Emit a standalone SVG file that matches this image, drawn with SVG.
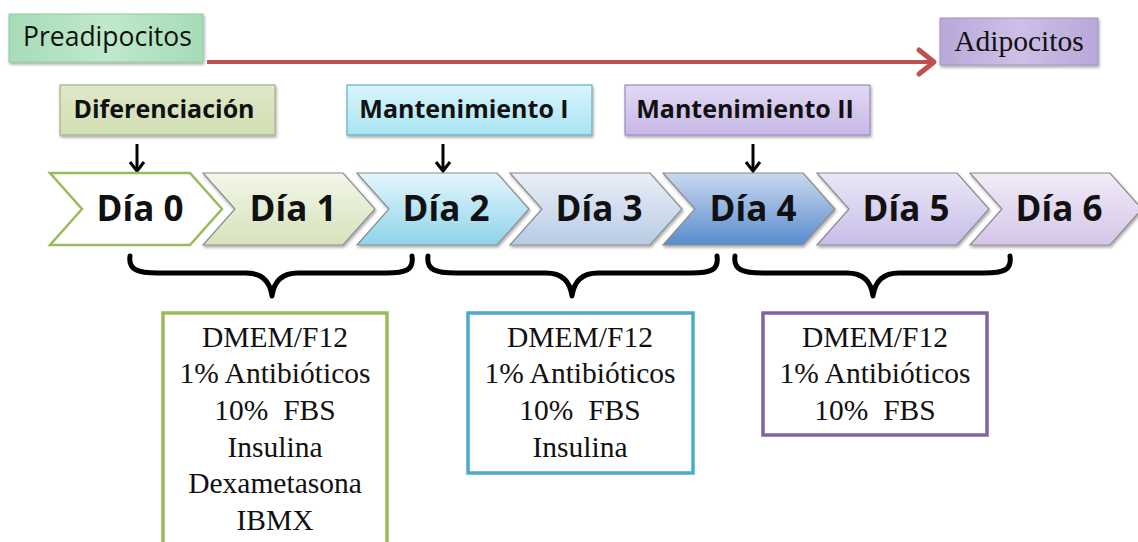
<svg xmlns="http://www.w3.org/2000/svg" width="1138" height="542" viewBox="0 0 1138 542">
  <defs>
    <style>
      .sans { font-family: "Open Sans", "Liberation Sans", sans-serif; fill: #111; }
      .hdr { font-family: "Open Sans", "Liberation Sans", sans-serif; font-weight: bold; font-size: 25px; fill: #111; text-anchor: middle; }
      .day { font-family: "Open Sans", "Liberation Sans", sans-serif; font-weight: bold; font-size: 35px; fill: #111; text-anchor: middle; }
      .serif { font-family: "Liberation Serif", "Times New Roman", serif; font-size: 29.5px; fill: #111; text-anchor: middle; }
      .chev { stroke: #8c8c8c; stroke-width: 1.2; filter: url(#shadow); }
      .brace { fill: none; stroke: #000; stroke-width: 5; stroke-linecap: round; stroke-linejoin: round; }
      .down { stroke: #000; stroke-width: 3; fill: none; }
      .media { fill: #fff; stroke-width: 3.5; }
    </style>
    <filter id="shadow" x="-10%" y="-10%" width="130%" height="140%">
      <feGaussianBlur in="SourceAlpha" stdDeviation="1.5"/>
      <feOffset dx="1" dy="2" result="b"/>
      <feComponentTransfer><feFuncA type="linear" slope="0.35"/></feComponentTransfer>
      <feMerge><feMergeNode/><feMergeNode in="SourceGraphic"/></feMerge>
    </filter>
    <linearGradient id="gPre" x1="0" y1="0" x2="1" y2="0">
      <stop offset="0" stop-color="#a6dcb6"/><stop offset="0.5" stop-color="#bfe9cb"/><stop offset="1" stop-color="#a6dcb6"/>
    </linearGradient>
    <linearGradient id="gAdi" x1="0" y1="0" x2="1" y2="0">
      <stop offset="0" stop-color="#b9a8d8"/><stop offset="0.5" stop-color="#cdbfe6"/><stop offset="1" stop-color="#b9a8d8"/>
    </linearGradient>
    <linearGradient id="gDif" x1="0" y1="0" x2="0" y2="1">
      <stop offset="0" stop-color="#dfe9c8"/><stop offset="1" stop-color="#d2dfb3"/>
    </linearGradient>
    <linearGradient id="gM1" x1="0" y1="0" x2="0" y2="1">
      <stop offset="0" stop-color="#d9f6fc"/><stop offset="1" stop-color="#a8e3f3"/>
    </linearGradient>
    <linearGradient id="gM2" x1="0" y1="0" x2="0" y2="1">
      <stop offset="0" stop-color="#e2d9f4"/><stop offset="1" stop-color="#c7b7e6"/>
    </linearGradient>
    <linearGradient id="gD1" x1="0" y1="0" x2="0" y2="1">
      <stop offset="0" stop-color="#f2f6e8"/><stop offset="1" stop-color="#d6e3bb"/>
    </linearGradient>
    <linearGradient id="gD2" x1="0" y1="0" x2="0" y2="1">
      <stop offset="0" stop-color="#e4f6fc"/><stop offset="1" stop-color="#8fd3ea"/>
    </linearGradient>
    <linearGradient id="gD3" x1="0" y1="0" x2="0" y2="1">
      <stop offset="0" stop-color="#e9eff8"/><stop offset="1" stop-color="#b8cbe4"/>
    </linearGradient>
    <linearGradient id="gD4" x1="0" y1="0" x2="0" y2="1">
      <stop offset="0" stop-color="#c9d9ef"/><stop offset="1" stop-color="#5a8ccf"/>
    </linearGradient>
    <linearGradient id="gD5" x1="0" y1="0" x2="0" y2="1">
      <stop offset="0" stop-color="#ebe7f7"/><stop offset="1" stop-color="#c7bde8"/>
    </linearGradient>
    <linearGradient id="gD6" x1="0" y1="0" x2="0" y2="1">
      <stop offset="0" stop-color="#f1ebf7"/><stop offset="1" stop-color="#d6c6e8"/>
    </linearGradient>
    <marker id="redHead" markerWidth="8" markerHeight="10" refX="6" refY="5" orient="auto" markerUnits="userSpaceOnUse" viewBox="0 0 8 10" overflow="visible">
      <path d="M-9,-7 L6,5 L-9,17" fill="none" stroke="#c0504d" stroke-width="5" stroke-linejoin="round" stroke-linecap="round"/>
    </marker>
    <marker id="blackHead" markerWidth="20" markerHeight="20" refX="0" refY="0" orient="auto" markerUnits="userSpaceOnUse" viewBox="-10 -10 20 20" overflow="visible">
      <path d="M-9,-7 L0,0 L-9,7" fill="none" stroke="#000" stroke-width="3"/>
    </marker>
  </defs>

  <rect width="1138" height="542" fill="#fff"/>

  <!-- connectors -->
  <g id="connectors">
    <line x1="207" y1="62" x2="934" y2="62" stroke="#c0504d" stroke-width="4" marker-end="url(#redHead)"/>
    <line class="down" x1="137" y1="144" x2="137" y2="171" marker-end="url(#blackHead)"/>
    <line class="down" x1="443" y1="144" x2="443" y2="171" marker-end="url(#blackHead)"/>
    <line class="down" x1="753" y1="144" x2="753" y2="171" marker-end="url(#blackHead)"/>
    <path class="brace" d="M130,256 C128,270 138,273 158,273 L246,273 C262,273 270,281 272,296 C274,281 282,273 298,273 L386,273 C406,273 414,270 412,256"/>
    <path class="brace" d="M428,256 C426,270 436,273 456,273 L546,273 C562,273 570,281 572,296 C574,281 582,273 598,273 L691,273 C711,273 719,270 717,256"/>
    <path class="brace" d="M735,256 C733,270 743,273 763,273 L847,273 C863,273 871,281 873,296 C875,281 883,273 899,273 L984,273 C1004,273 1012,270 1010,256"/>
  </g>

  <g id="preadipocitos">
    <rect x="9" y="14" width="194" height="48" fill="url(#gPre)" stroke="#8fc9a0" stroke-width="1" filter="url(#shadow)"/>
    <text class="sans" x="23" y="46" font-size="26.5">Preadipocitos</text>
  </g>
  <g id="adipocitos">
    <rect x="940" y="18" width="158" height="47" fill="url(#gAdi)" stroke="#a392c6" stroke-width="1" filter="url(#shadow)"/>
    <text class="serif" x="1019" y="51" font-size="29">Adipocitos</text>
  </g>

  <g id="diferenciacion">
    <rect x="60" y="85" width="215" height="50" fill="url(#gDif)" stroke="#a9ae86" stroke-width="1.2" filter="url(#shadow)"/>
    <text class="hdr" x="164" y="118">Diferenciación</text>
  </g>
  <g id="mantenimiento1">
    <rect x="347" y="85" width="245" height="50" fill="url(#gM1)" stroke="#6aaec2" stroke-width="1.2" filter="url(#shadow)"/>
    <text class="hdr" x="464" y="118">Mantenimiento I</text>
  </g>
  <g id="mantenimiento2">
    <rect x="625" y="85" width="245" height="50" fill="url(#gM2)" stroke="#9d8cc0" stroke-width="1.2" filter="url(#shadow)"/>
    <text class="hdr" x="745" y="118">Mantenimiento II</text>
  </g>

  <g id="dia0">
    <path d="M50,173 L190,173 L222,209 L190,245 L50,245 L82,209 Z" fill="#fff" stroke="#9bbb59" stroke-width="2.5"/>
    <text class="day" x="140" y="221">Día 0</text>
  </g>
  <g id="dia1">
    <path class="chev" d="M203,173 L343,173 L375,209 L343,245 L203,245 L235,209 Z" fill="url(#gD1)"/>
    <text class="day" x="293" y="221">Día 1</text>
  </g>
  <g id="dia2">
    <path class="chev" d="M357,173 L497,173 L529,209 L497,245 L357,245 L389,209 Z" fill="url(#gD2)" stroke="#3f6f7d"/>
    <text class="day" x="446" y="221">Día 2</text>
  </g>
  <g id="dia3">
    <path class="chev" d="M510,173 L650,173 L682,209 L650,245 L510,245 L542,209 Z" fill="url(#gD3)"/>
    <text class="day" x="599" y="221">Día 3</text>
  </g>
  <g id="dia4">
    <path class="chev" d="M663,173 L803,173 L835,209 L803,245 L663,245 L695,209 Z" fill="url(#gD4)" stroke="#4a6f9c"/>
    <text class="day" x="753" y="221">Día 4</text>
  </g>
  <g id="dia5">
    <path class="chev" d="M817,173 L957,173 L989,209 L957,245 L817,245 L849,209 Z" fill="url(#gD5)"/>
    <text class="day" x="906" y="221">Día 5</text>
  </g>
  <g id="dia6">
    <path class="chev" d="M970,173 L1110,173 L1142,209 L1110,245 L970,245 L1002,209 Z" fill="url(#gD6)"/>
    <text class="day" x="1059" y="221">Día 6</text>
  </g>

  <g id="medio1">
    <rect class="media" x="163" y="313" width="224" height="240" stroke="#9bbb59"/>
    <text class="serif" x="275" y="347">DMEM/F12</text>
    <text class="serif" x="275" y="383">1% Antibióticos</text>
    <text class="serif" x="275" y="420" xml:space="preserve">10%  FBS</text>
    <text class="serif" x="275" y="457">Insulina</text>
    <text class="serif" x="275" y="493">Dexametasona</text>
    <text class="serif" x="275" y="530">IBMX</text>
  </g>
  <g id="medio2">
    <rect class="media" x="468" y="313" width="225" height="160" stroke="#4bacc6"/>
    <text class="serif" x="580" y="347">DMEM/F12</text>
    <text class="serif" x="580" y="383">1% Antibióticos</text>
    <text class="serif" x="580" y="420" xml:space="preserve">10%  FBS</text>
    <text class="serif" x="580" y="457">Insulina</text>
  </g>
  <g id="medio3">
    <rect class="media" x="763" y="313" width="224" height="122" stroke="#8064a2"/>
    <text class="serif" x="875" y="347">DMEM/F12</text>
    <text class="serif" x="875" y="383">1% Antibióticos</text>
    <text class="serif" x="875" y="420" xml:space="preserve">10%  FBS</text>
  </g>
</svg>
